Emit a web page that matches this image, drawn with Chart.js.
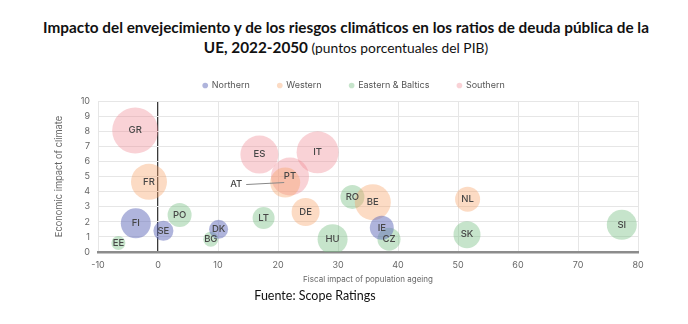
<!DOCTYPE html>
<html>
<head>
<meta charset="utf-8">
<script src="https://cdn.jsdelivr.net/npm/chart.js@4"></script>
<style>
  body { margin: 0; background: #fff; }
  #wrap { position: relative; width: 688px; height: 324px; overflow: hidden; }
  #myChart { position: absolute; left: 0; top: 0; }
  .title { position: absolute; left: 0; width: 688px; text-align: center; font-family: Lato, sans-serif; font-size: 13.8px; color: #111; white-space: nowrap; }
  .title b { font-weight: 700; font-size: 15.3px; }
  #src { position: absolute; left: 0; width: 630px; top: 288px; text-align: center; font-family: Lato, sans-serif; font-size: 12.5px; color: #111; }
</style>
</head>
<body>
<div id="wrap">
  <div class="title" style="top:18px; left:2px"><b>Impacto del envejecimiento y de los riesgos climáticos en los ratios de deuda pública de la</b></div>
  <div class="title" style="top:38px; left:2px"><b>UE, 2022-2050</b> (puntos porcentuales del PIB)</div>
  <canvas id="myChart" width="688" height="324"></canvas>
  <div id="src">Fuente: Scope Ratings</div>
</div>
<script>
// fiscal impact of ageing (x), economic impact of climate (y), bubble size (r)
const northernLabels = ['FI', 'SE', 'DK', 'IE'];
const northernX = [-3.7, 0.9, 10.1, 37.3];
const northernY = [1.9, 1.4, 1.5, 1.6];
const northernR = [15, 10, 9.5, 12];

const westernLabels = ['FR', 'AT', 'DE', 'BE', 'NL'];
const westernX = [-1.5, 21.2, 24.6, 35.8, 51.6];
const westernY = [4.65, 4.6, 2.65, 3.3, 3.5];
const westernR = [18, 15, 14, 18, 12.5];

const easternLabels = ['EE', 'PO', 'BG', 'LT', 'HU', 'RO', 'CZ', 'SK', 'SI'];
const easternX = [-6.6, 3.6, 8.8, 17.6, 29.1, 32.4, 38.5, 51.5, 77.3];
const easternY = [0.6, 2.45, 0.85, 2.25, 0.85, 3.65, 0.85, 1.15, 1.8];
const easternR = [7, 12, 7.5, 11, 15, 12, 11.5, 13.5, 15];

const southernLabels = ['GR', 'ES', 'PT', 'IT'];
const southernX = [-3.8, 16.9, 22, 26.6];
const southernY = [8.05, 6.45, 5.0, 6.6];
const southernR = [23, 19, 19, 21];

const xTicks = [-10, 0, 10, 20, 30, 40, 50, 60, 70, 80];
const yTicks = [0, 1, 2, 3, 4, 5, 6, 7, 8, 9, 10];

function points(xs, ys, rs) {
  return xs.map((x, i) => ({ x: x, y: ys[i], r: rs[i] }));
}

const chartData = {
  datasets: [
    { label: 'Northern', names: northernLabels, data: points(northernX, northernY, northernR),
      backgroundColor: 'rgba(95,105,185,0.5)' },
    { label: 'Western', names: westernLabels, data: points(westernX, westernY, westernR),
      backgroundColor: 'rgba(248,160,100,0.38)' },
    { label: 'Eastern & Baltics', names: easternLabels, data: points(easternX, easternY, easternR),
      backgroundColor: 'rgba(120,190,130,0.42)' },
    { label: 'Southern', names: southernLabels, data: points(southernX, southernY, southernR),
      backgroundColor: 'rgba(238,130,140,0.36)' }
  ]
};

// country codes on the bubbles, AT moved out with a leader line
const bubbleLabels = {
  id: 'bubbleLabels',
  afterDatasetsDraw(chart) {
    const ctx = chart.ctx;
    ctx.save();
    ctx.font = '500 9.5px Inter, sans-serif';
    ctx.fillStyle = '#474747';
    ctx.textAlign = 'center';
    ctx.textBaseline = 'middle';
    chart.data.datasets.forEach((ds, di) => {
      chart.getDatasetMeta(di).data.forEach((el, i) => {
        const name = ds.names[i];
        if (name === 'AT') {
          ctx.strokeStyle = '#888';
          ctx.lineWidth = 1;
          ctx.beginPath();
          ctx.moveTo(el.x - 39, el.y + 2);
          ctx.lineTo(el.x - 1, el.y);
          ctx.stroke();
          ctx.fillText(name, el.x - 49, el.y + 2);
        } else {
          ctx.fillText(name, el.x, el.y);
        }
      });
    });
    ctx.restore();
  }
};

// fixed legend height, legend nudged right like the original
const legendTweak = {
  id: 'legendTweak',
  beforeInit(chart) {
    const legend = chart.legend;
    const fit = legend.fit;
    legend.fit = function () {
      fit.bind(legend)();
      this.height = 48;
    };
    const draw = legend.draw;
    legend.draw = function () {
      chart.ctx.save();
      chart.ctx.translate(10, 0);
      draw.bind(legend)();
      chart.ctx.restore();
    };
  }
};

const config = {
  type: 'bubble',
  data: chartData,
  options: {
    responsive: false,
    animation: false,
    devicePixelRatio: 1,
    layout: { padding: { left: 50, right: 50, top: 53, bottom: 36 } },
    elements: { point: { borderWidth: 0, hoverBorderWidth: 0 } },
    plugins: {
      tooltip: { enabled: false },
      legend: {
        position: 'top',
        labels: {
          usePointStyle: true,
          pointStyle: 'circle',
          boxWidth: 4,
          boxHeight: 4,
          padding: 28,
          color: '#555',
          font: { family: 'Inter, sans-serif', size: 9 }
        }
      }
    },
    scales: {
      x: {
        type: 'linear',
        min: -10,
        max: 80,
        afterBuildTicks: (scale) => { scale.ticks = xTicks.map(v => ({ value: v })); },
        afterFit: (scale) => { scale.height = 36; },
        ticks: { color: '#666', padding: 8, font: { family: 'Inter, sans-serif', size: 9 } },
        grid: {
          drawTicks: false,
          color: (c) => (c.tick && c.tick.value === 0 ? '#3a3a3a' : '#e6e6e6'),
          lineWidth: (c) => (c.tick && c.tick.value === 0 ? 1.3 : 1)
        },
        border: { color: '#8c8c8c', width: 2.5 },
        title: { display: true, text: 'Fiscal impact of population ageing', color: '#666',
          padding: { top: 4, bottom: 4 }, font: { family: 'Inter, sans-serif', size: 8 } }
      },
      y: {
        min: 0,
        max: 10,
        afterBuildTicks: (scale) => { scale.ticks = yTicks.map(v => ({ value: v })); },
        afterFit: (scale) => { scale.width = 48; },
        ticks: { color: '#666', padding: 8, font: { family: 'Inter, sans-serif', size: 9 } },
        grid: { drawTicks: false, color: '#e6e6e6' },
        border: { display: false },
        title: { display: true, text: 'Economic impact of climate', color: '#666',
          padding: { top: 4, bottom: 4 }, font: { family: 'Inter, sans-serif', size: 9.3 } }
      }
    }
  },
  plugins: [bubbleLabels, legendTweak]
};

const ctx = document.getElementById('myChart').getContext('2d');
const myChart = new Chart(ctx, config);
</script>
</body>
</html>
